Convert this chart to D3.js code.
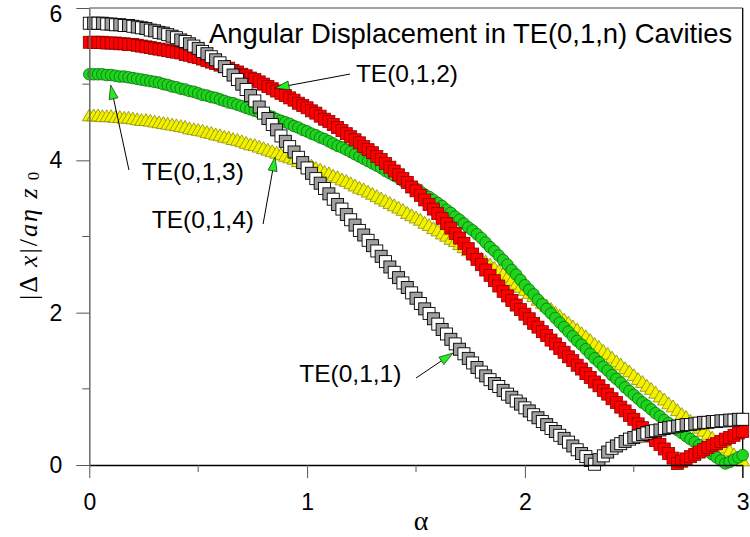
<!DOCTYPE html>
<html>
<head>
<meta charset="utf-8">
<script src="https://cdn.jsdelivr.net/npm/d3@7/dist/d3.min.js"></script>
<style>
  body { margin: 0; background: #fff; }
  svg { display: block; font-family: "Liberation Sans", Arial, sans-serif; }
</style>
</head>
<body>
<svg id="chart" width="750" height="537"></svg>
<script>
// alpha grid: 0 .. 3 in steps of 0.02 (151 samples per curve)
var alphaStep = 0.02;

// values, |dx|/(a eta z0)
var te011 = [5.80,5.80,5.80,5.80,5.79,5.79,5.78,5.78,5.77,5.77,5.76,5.75,5.74,5.73,5.71,5.70,5.68,5.67,5.65,5.63,
  5.61,5.58,5.56,5.53,5.50,5.47,5.43,5.40,5.36,5.32,5.28,5.23,5.18,5.12,5.06,5.00,4.93,4.85,4.78,4.70,
  4.62,4.55,4.47,4.40,4.32,4.25,4.18,4.11,4.04,3.97,3.90,3.83,3.76,3.70,3.63,3.56,3.49,3.42,3.36,3.29,
  3.22,3.15,3.08,3.02,2.95,2.88,2.81,2.74,2.67,2.60,2.53,2.46,2.39,2.33,2.26,2.19,2.12,2.05,1.99,1.92,
  1.85,1.78,1.72,1.65,1.59,1.52,1.46,1.40,1.34,1.28,1.22,1.17,1.12,1.07,1.03,0.98,0.93,0.89,0.84,0.80,
  0.75,0.71,0.66,0.62,0.57,0.53,0.48,0.44,0.39,0.35,0.30,0.25,0.20,0.15,0.11,0.06,0.01,0.07,0.12,0.17,
  0.22,0.25,0.28,0.31,0.34,0.36,0.38,0.40,0.42,0.44,0.45,0.46,0.48,0.49,0.50,0.51,0.52,0.53,0.53,0.54,
  0.55,0.56,0.56,0.57,0.57,0.58,0.58,0.59,0.59,0.60,0.60];

var te012 = [5.55,5.55,5.55,5.55,5.54,5.54,5.54,5.53,5.53,5.52,5.52,5.51,5.50,5.49,5.48,5.47,5.46,5.45,5.44,5.43,
  5.42,5.41,5.39,5.38,5.36,5.35,5.33,5.31,5.29,5.27,5.25,5.23,5.21,5.18,5.16,5.13,5.11,5.08,5.06,5.03,
  5.00,4.97,4.94,4.91,4.88,4.85,4.82,4.79,4.75,4.72,4.69,4.65,4.62,4.58,4.54,4.51,4.47,4.43,4.39,4.35,
  4.31,4.27,4.23,4.18,4.14,4.10,4.05,4.01,3.96,3.91,3.86,3.81,3.76,3.71,3.65,3.60,3.54,3.48,3.42,3.36,
  3.30,3.24,3.17,3.11,3.04,2.98,2.91,2.84,2.77,2.70,2.63,2.56,2.49,2.42,2.35,2.28,2.22,2.16,2.10,2.04,
  1.98,1.92,1.86,1.81,1.75,1.70,1.64,1.59,1.53,1.48,1.42,1.37,1.31,1.26,1.20,1.15,1.09,1.04,0.98,0.93,
  0.87,0.82,0.76,0.71,0.65,0.60,0.54,0.49,0.43,0.38,0.32,0.27,0.21,0.15,0.09,0.02,0.05,0.08,0.11,0.14,
  0.17,0.20,0.23,0.26,0.28,0.31,0.34,0.36,0.39,0.42,0.44];

var te013 = [5.13,5.13,5.13,5.13,5.12,5.12,5.11,5.10,5.10,5.09,5.08,5.07,5.06,5.05,5.04,5.03,5.02,5.00,4.99,4.97,
  4.96,4.94,4.93,4.91,4.90,4.88,4.86,4.85,4.83,4.82,4.80,4.78,4.76,4.75,4.73,4.71,4.69,4.67,4.65,4.63,
  4.61,4.59,4.57,4.54,4.52,4.50,4.48,4.45,4.43,4.40,4.38,4.35,4.33,4.30,4.28,4.25,4.22,4.19,4.17,4.14,
  4.11,4.08,4.05,4.02,3.99,3.96,3.93,3.90,3.86,3.83,3.80,3.77,3.73,3.70,3.66,3.63,3.59,3.55,3.52,3.48,
  3.44,3.40,3.35,3.31,3.26,3.22,3.17,3.12,3.08,3.03,2.98,2.92,2.86,2.81,2.75,2.69,2.63,2.56,2.50,2.43,
  2.36,2.30,2.24,2.17,2.11,2.05,1.99,1.93,1.87,1.81,1.75,1.69,1.63,1.58,1.52,1.46,1.40,1.35,1.29,1.24,
  1.18,1.13,1.08,1.02,0.97,0.92,0.87,0.82,0.78,0.73,0.68,0.64,0.59,0.55,0.50,0.46,0.42,0.38,0.34,0.30,
  0.26,0.22,0.18,0.14,0.10,0.06,0.02,0.04,0.07,0.10,0.13];

var te014 = [4.57,4.57,4.57,4.56,4.56,4.56,4.55,4.55,4.54,4.54,4.53,4.52,4.51,4.51,4.50,4.49,4.48,4.47,4.46,4.45,
  4.44,4.43,4.42,4.40,4.39,4.38,4.37,4.35,4.34,4.32,4.31,4.29,4.28,4.26,4.25,4.23,4.21,4.19,4.18,4.16,
  4.14,4.12,4.10,4.08,4.06,4.04,4.02,4.00,3.97,3.95,3.93,3.91,3.88,3.86,3.83,3.81,3.78,3.76,3.73,3.71,
  3.68,3.65,3.62,3.60,3.57,3.54,3.51,3.48,3.45,3.42,3.39,3.36,3.33,3.29,3.26,3.23,3.20,3.16,3.13,3.09,
  3.06,3.02,2.99,2.95,2.92,2.88,2.84,2.80,2.77,2.73,2.69,2.65,2.61,2.57,2.53,2.49,2.45,2.41,2.36,2.32,
  2.28,2.24,2.20,2.15,2.11,2.07,2.03,1.98,1.94,1.89,1.85,1.80,1.76,1.71,1.67,1.62,1.57,1.53,1.48,1.44,
  1.39,1.34,1.30,1.25,1.21,1.16,1.11,1.07,1.02,0.98,0.93,0.88,0.84,0.79,0.75,0.70,0.65,0.61,0.56,0.52,
  0.47,0.43,0.38,0.34,0.29,0.25,0.21,0.17,0.12,0.08,0.04];

var xTicks = [0, 1, 2, 3];
var xMinor = [0.5, 1.5, 2.5];
var yTicks = [0, 2, 4, 6];
var yMinor = [1, 3, 5];

// callouts: label, text anchor (alpha, value), arrow tail, arrow tip
var calloutLabels = ["TE(0,1,1)", "TE(0,1,2)", "TE(0,1,3)", "TE(0,1,4)"];
var calloutText   = [[0.964, 1.094], [1.224, 5.022], [0.241, 3.742], [0.287, 3.108]];
var calloutTail   = [[1.500, 1.142], [1.197, 5.133], [0.182, 3.873], [0.798, 3.164]];
var calloutTip    = [[1.670, 1.470], [0.853, 4.949], [0.098, 4.989], [0.853, 4.044]];

var svg = d3.select("#chart");

var x = d3.scaleLinear().domain([0, 3]).range([89.3, 742.7]);
var y = d3.scaleLinear().domain([0, 6]).range([465, 8]);

function toPoints(vals) {
  return vals.map(function (v, i) { return { a: +(i * alphaStep).toFixed(2), v: v, i: i }; });
}

// frame: top and right borders
svg.append("line").attr("x1", x(0)).attr("x2", x(3)).attr("y1", y(6)).attr("y2", y(6))
  .attr("stroke", "#808080").attr("stroke-width", 1.3);
svg.append("line").attr("x1", x(3)).attr("x2", x(3)).attr("y1", y(6)).attr("y2", y(0) + 13)
  .attr("stroke", "#000").attr("stroke-width", 1.3);

// series, bottom to top
var gYellow = svg.append("g");
gYellow.selectAll("path").data(toPoints(te014)).enter().append("path")
  .attr("d", d3.symbol().type(d3.symbolTriangle).size(82))
  .attr("transform", function (d) { return "translate(" + x(d.a) + "," + y(d.v) + ")"; })
  .attr("fill", "#f2f200").attr("stroke", "#8c8c00").attr("stroke-width", 0.8);

var gGreen = svg.append("g");
gGreen.selectAll("circle").data(toPoints(te013)).enter().append("circle")
  .attr("cx", function (d) { return x(d.a); })
  .attr("cy", function (d) { return y(d.v); })
  .attr("r", 5.8)
  .attr("fill", "#1ed41e").attr("stroke", "#0b6f0b").attr("stroke-width", 0.8);

var gRed = svg.append("g");
gRed.selectAll("rect").data(toPoints(te012)).enter().append("rect")
  .attr("x", function (d) { return x(d.a) - 6; })
  .attr("y", function (d) { return y(d.v) - 6; })
  .attr("width", 12).attr("height", 12)
  .attr("fill", "#ff0000").attr("stroke", "#8a0000").attr("stroke-width", 0.8);

var gGray = svg.append("g");
gGray.selectAll("rect").data(toPoints(te011)).enter().append("rect")
  .attr("x", function (d) { return x(d.a) - 6; })
  .attr("y", function (d) { return y(d.v) - 6; })
  .attr("width", 12).attr("height", 12)
  .attr("fill", function (d) { return d.i % 2 ? "#a0a0a0" : "#ffffff"; })
  .attr("stroke", "#000").attr("stroke-width", 0.9);

// axes
var gx = svg.append("g").attr("transform", "translate(0," + y(0) + ")")
  .call(d3.axisBottom(x).tickValues(xTicks).tickSize(13).tickSizeOuter(0).tickPadding(16)
    .tickFormat(d3.format("d")));
gx.select(".domain").attr("stroke", "#000").attr("stroke-width", 1.3);
gx.selectAll(".tick line").attr("stroke", "#555");
gx.selectAll(".tick text").attr("font-size", 23).attr("font-family", "Liberation Sans, Arial, sans-serif").attr("fill", "#000");
gx.selectAll(".minor").data(xMinor).enter().append("line").attr("class", "minor")
  .attr("x1", function (d) { return x(d); }).attr("x2", function (d) { return x(d); })
  .attr("y1", 0).attr("y2", 7).attr("stroke", "#555");

var gy = svg.append("g").attr("transform", "translate(" + x(0) + ",0)")
  .call(d3.axisLeft(y).tickValues(yTicks).tickSize(13).tickSizeOuter(0).tickPadding(14)
    .tickFormat(d3.format("d")));
gy.select(".domain").attr("stroke", "#6a6a6a").attr("stroke-width", 1.5);
gy.selectAll(".tick line").attr("stroke", "#555");
// the top label sits at the very edge; nudge it down so it stays inside the picture
gy.selectAll(".tick text").attr("font-size", 23).attr("font-family", "Liberation Sans, Arial, sans-serif").attr("fill", "#000")
  .attr("dy", function (d) { return d === 6 ? "0.6em" : "0.32em"; });
gy.selectAll(".minor").data(yMinor).enter().append("line").attr("class", "minor")
  .attr("y1", function (d) { return y(d); }).attr("y2", function (d) { return y(d); })
  .attr("x1", 0).attr("x2", -7).attr("stroke", "#555");

// axis titles
svg.append("text").attr("x", 421).attr("y", 530).attr("text-anchor", "middle")
  .attr("font-family", "'Liberation Serif','Times New Roman',serif").attr("font-size", 28)
  .text("α");

var yl = svg.append("text").attr("transform", "translate(37,300) rotate(-90)")
  .attr("font-family", "'Liberation Serif','Times New Roman',serif").attr("font-size", 26)
  .attr("letter-spacing", 2);
yl.append("tspan").text("|Δ ");
yl.append("tspan").attr("font-style", "italic").text("x");
yl.append("tspan").text("|/");
yl.append("tspan").attr("font-style", "italic").text("aη z");
yl.append("tspan").attr("font-size", 17).attr("dy", 2).text(" 0");

// chart title
svg.append("text").attr("x", 209).attr("y", 43).attr("font-size", 27.4)
  .text("Angular Displacement in TE(0,1,n) Cavities");

// callouts with green arrowheads
var gc = svg.append("g");
calloutLabels.forEach(function (lab, k) {
  gc.append("text").attr("x", x(calloutText[k][0])).attr("y", y(calloutText[k][1]))
    .attr("font-size", 24.5).text(lab);
  var x0 = x(calloutTail[k][0]), y0 = y(calloutTail[k][1]);
  var x1 = x(calloutTip[k][0]), y1 = y(calloutTip[k][1]);
  var ang = Math.atan2(y1 - y0, x1 - x0);
  var len = 14, hw = 4.5;
  var bx = x1 - len * Math.cos(ang), by = y1 - len * Math.sin(ang);
  gc.append("line").attr("x1", x0).attr("y1", y0).attr("x2", bx).attr("y2", by)
    .attr("stroke", "#000").attr("stroke-width", 1);
  var pts = [[x1, y1],
    [bx + hw * Math.sin(ang), by - hw * Math.cos(ang)],
    [bx - hw * Math.sin(ang), by + hw * Math.cos(ang)]];
  gc.append("polygon").attr("points", pts.map(function (p) { return p.join(","); }).join(" "))
    .attr("fill", "#22ee22").attr("stroke", "#000").attr("stroke-width", 0.6);
});
</script>
</body>
</html>
